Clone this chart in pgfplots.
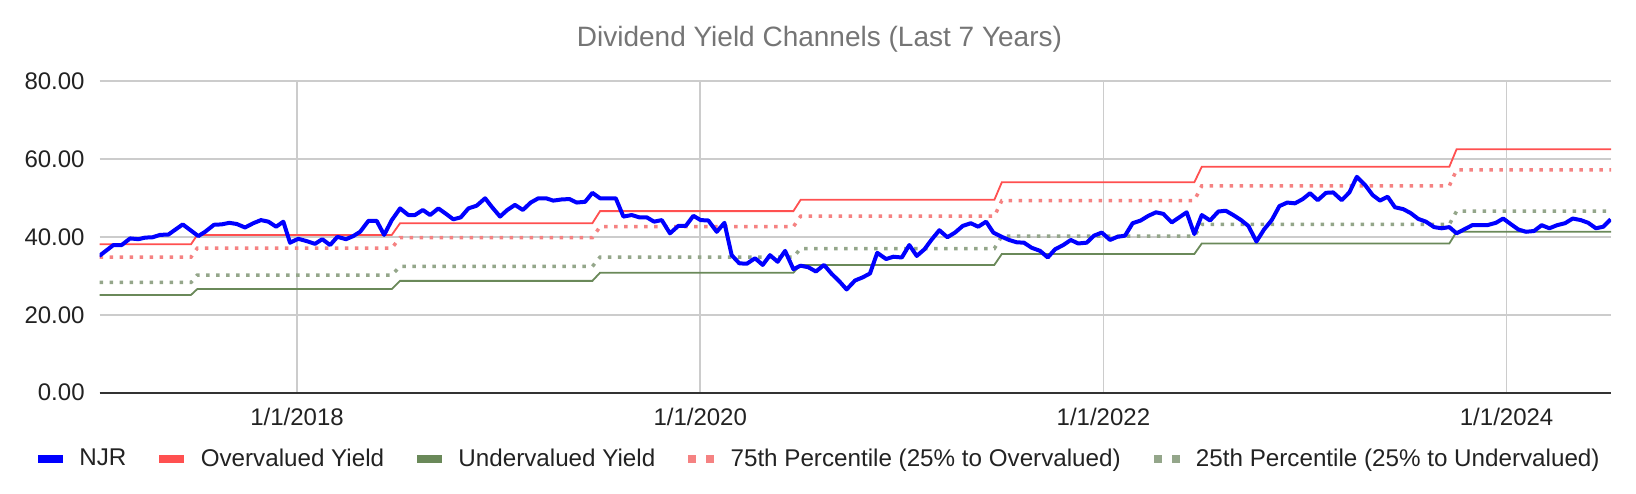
\documentclass[border=0pt]{standalone}
\usepackage{fontspec}
\setmainfont{Liberation Sans}
\usepackage{pgfplots}
\pgfplotsset{compat=1.18}
\definecolor{njr}{RGB}{0,0,255}
\definecolor{over}{RGB}{255,80,80}
\definecolor{under}{RGB}{106,137,89}
\definecolor{p75}{RGB}{245,130,130}
\definecolor{p25}{RGB}{148,166,138}
\definecolor{gridc}{RGB}{204,204,204}
\definecolor{axisc}{RGB}{51,51,51}
\definecolor{titlec}{RGB}{117,117,117}
\definecolor{textc}{RGB}{34,34,34}
\begin{document}
\begin{tikzpicture}
\useasboundingbox (0,0) rectangle (818bp,247bp);
\begin{axis}[
  at={(49.75bp,50.65bp)}, anchor=south west,
  scale only axis, width=755.75bp, height=155.85bp,
  xmin=2017.02, xmax=2024.518, ymin=0, ymax=80,
  xtick={2018,2020,2022,2024},
  xticklabels={1/1/2018,1/1/2020,1/1/2022,1/1/2024},
  ytick={0,20,40,60,80},
  /pgf/number format/fixed,
  /pgf/number format/fixed zerofill,
  /pgf/number format/precision=2,
  /pgf/number format/assume math mode=true,
  major tick length=0pt,
  xmajorgrids, ymajorgrids,
  major grid style={gridc, line width=0.75bp},
  axis x line*=bottom, axis y line*=left,
  x axis line style={axisc, line width=1bp, -},
  y axis line style={draw=none},
  tick label style={font=\fontsize{12bp}{14bp}\selectfont, text=textc, inner sep=0pt},
  xticklabel style={yshift=-7.4bp},
  yticklabel style={xshift=-7.25bp},
  title={Dividend Yield Channels (Last 7 Years)},
  title style={font=\fontsize{14bp}{16bp}\selectfont, text=titlec, inner sep=0pt,
    at={(axis description cs:0.4763,1)}, anchor=base, yshift=11.2bp},
  legend columns=5,
  legend style={draw=none, fill=none, inner sep=0pt,
    at={(axis description cs:0.4759,-0.2127)}, anchor=center,
    font=\fontsize{12.1bp}{14bp}\selectfont, text=textc,
    nodes={inner sep=0pt},
    /tikz/every odd column/.append style={column sep=8.25bp},
    /tikz/every even column/.append style={column sep=16.5bp}},
  clip=true,
]
\addlegendimage{legend image code/.code={\fill[njr] (0bp,-1.75bp) rectangle (12bp,1.75bp);}}
\addlegendentry{NJR}
\addlegendimage{legend image code/.code={\fill[over] (0bp,-1.75bp) rectangle (12bp,1.75bp);}}
\addlegendentry{Overvalued Yield}
\addlegendimage{legend image code/.code={\fill[under] (0bp,-1.75bp) rectangle (12bp,1.75bp);}}
\addlegendentry{Undervalued Yield}
\addlegendimage{legend image code/.code={\fill[p75] (0bp,-1.75bp) rectangle (3.5bp,1.75bp); \fill[p75] (9bp,-1.75bp) rectangle (12.5bp,1.75bp);}}
\addlegendentry{75th Percentile (25\% to Overvalued)}
\addlegendimage{legend image code/.code={\fill[p25] (0bp,-1.75bp) rectangle (3.5bp,1.75bp); \fill[p25] (9bp,-1.75bp) rectangle (12.5bp,1.75bp);}}
\addlegendentry{25th Percentile (25\% to Undervalued)}

% Undervalued yield
\addplot[forget plot, under, line width=0.9bp] coordinates {
(2017.02,25.1) (2017.474,25.1) (2017.505,26.6) (2018.470,26.6) (2018.511,28.7)
(2019.465,28.7) (2019.503,30.8) (2020.462,30.8) (2020.498,32.8) (2021.459,32.8)
(2021.496,35.6) (2022.451,35.6) (2022.488,38.3) (2023.716,38.3) (2023.752,41.3) (2024.518,41.3)};
% Overvalued yield
\addplot[forget plot, over, line width=0.9bp] coordinates {
(2017.02,38.1) (2017.474,38.1) (2017.505,40.5) (2018.470,40.5) (2018.511,43.5)
(2019.465,43.5) (2019.503,46.6) (2020.462,46.6) (2020.498,49.5) (2021.459,49.5)
(2021.496,54.0) (2022.451,54.0) (2022.488,58.0) (2023.716,58.0) (2023.752,62.5) (2024.518,62.5)};
% 75th percentile
\addplot[forget plot, p75, line width=1.75bp, dash pattern=on 1.75bp off 3.25bp] coordinates {
(2017.02,34.8) (2017.474,34.8) (2017.505,37.1) (2018.470,37.1) (2018.511,39.8)
(2019.465,39.8) (2019.503,42.6) (2020.462,42.6) (2020.498,45.3) (2021.459,45.3)
(2021.496,49.3) (2022.451,49.3) (2022.488,53.1) (2023.716,53.1) (2023.752,57.2) (2024.518,57.2)};
% 25th percentile
\addplot[forget plot, p25, line width=1.75bp, dash pattern=on 1.75bp off 3.25bp] coordinates {
(2017.02,28.3) (2017.474,28.3) (2017.505,30.2) (2018.470,30.2) (2018.511,32.4)
(2019.465,32.4) (2019.503,34.8) (2020.462,34.8) (2020.498,37.0) (2021.459,37.0)
(2021.496,40.2) (2022.451,40.2) (2022.488,43.2) (2023.716,43.2) (2023.752,46.6) (2024.518,46.6)};
% NJR
\addplot[forget plot, njr, line width=2bp, line join=round] coordinates {
(2017.019,35.1) (2017.089,37.9) (2017.130,37.9) (2017.172,39.6) (2017.213,39.4)
(2017.246,39.8) (2017.284,39.9) (2017.320,40.5) (2017.362,40.6) (2017.433,43.2)
(2017.510,40.2) (2017.544,41.3) (2017.588,43.1) (2017.626,43.2) (2017.664,43.6)
(2017.701,43.3) (2017.742,42.4) (2017.783,43.5) (2017.821,44.3) (2017.858,43.9)
(2017.896,42.6) (2017.932,43.9) (2017.965,38.5) (2018.006,39.5) (2018.048,38.9)
(2018.089,38.2) (2018.125,39.4) (2018.164,37.9) (2018.200,40.0) (2018.243,39.4)
(2018.279,40.2) (2018.313,41.3) (2018.354,44.1) (2018.395,44.1) (2018.432,40.5)
(2018.470,44.3) (2018.511,47.3) (2018.552,45.6) (2018.585,45.6) (2018.624,46.9)
(2018.660,45.6) (2018.701,47.3) (2018.739,45.9) (2018.775,44.5) (2018.812,45.0)
(2018.850,47.3) (2018.891,48.0) (2018.933,49.9) (2018.966,47.7) (2019.007,45.2)
(2019.043,46.9) (2019.081,48.2) (2019.120,46.9) (2019.159,48.8) (2019.197,49.9)
(2019.235,49.9) (2019.271,49.3) (2019.313,49.6) (2019.351,49.7) (2019.387,48.8)
(2019.429,49.0) (2019.465,51.3) (2019.503,49.9) (2019.544,49.9) (2019.581,49.9)
(2019.619,45.2) (2019.660,45.6) (2019.698,45.0) (2019.735,45.0) (2019.771,43.9)
(2019.809,44.3) (2019.850,40.9) (2019.891,42.8) (2019.928,42.8) (2019.966,45.4)
(2020.002,44.3) (2020.040,44.2) (2020.082,41.3) (2020.120,43.6) (2020.156,35.3)
(2020.194,33.2) (2020.231,33.1) (2020.272,34.5) (2020.310,32.8) (2020.346,35.3)
(2020.384,33.6) (2020.421,36.4) (2020.462,31.7) (2020.498,32.6) (2020.536,32.2)
(2020.574,31.1) (2020.614,32.8) (2020.652,30.5) (2020.690,28.6) (2020.726,26.5)
(2020.768,28.8) (2020.806,29.6) (2020.842,30.6) (2020.878,35.9) (2020.922,34.3)
(2020.958,34.9) (2021.000,34.7) (2021.037,37.9) (2021.074,35.1) (2021.112,36.8)
(2021.148,39.3) (2021.186,41.7) (2021.226,39.9) (2021.264,41.1) (2021.302,42.8)
(2021.342,43.5) (2021.379,42.6) (2021.418,43.9) (2021.454,41.1) (2021.496,40.0)
(2021.532,39.2) (2021.570,38.6) (2021.606,38.5) (2021.644,37.2) (2021.686,36.4)
(2021.724,34.7) (2021.760,36.8) (2021.801,37.9) (2021.838,39.2) (2021.875,38.3)
(2021.917,38.5) (2021.953,40.3) (2021.992,41.1) (2022.033,39.2) (2022.069,40.0)
(2022.107,40.3) (2022.145,43.5) (2022.185,44.2) (2022.223,45.4) (2022.261,46.3)
(2022.297,45.9) (2022.339,43.7) (2022.376,45.0) (2022.413,46.3) (2022.451,40.7)
(2022.488,45.6) (2022.529,44.2) (2022.570,46.5) (2022.607,46.7) (2022.644,45.6)
(2022.683,44.3) (2022.719,42.8) (2022.759,38.8) (2022.797,41.9) (2022.835,44.3)
(2022.873,47.9) (2022.912,48.8) (2022.950,48.6) (2022.989,49.7) (2023.025,51.2)
(2023.063,49.4) (2023.104,51.3) (2023.140,51.4) (2023.182,49.4) (2023.220,51.4)
(2023.257,55.4) (2023.298,53.3) (2023.336,50.7) (2023.372,49.3) (2023.410,50.3)
(2023.446,47.6) (2023.488,47.1) (2023.524,46.1) (2023.562,44.6) (2023.600,43.9)
(2023.640,42.5) (2023.678,42.2) (2023.716,42.5) (2023.752,40.9) (2023.789,41.9)
(2023.830,43.0) (2023.868,43.0) (2023.904,43.0) (2023.947,43.6) (2023.983,44.7)
(2024.020,43.3) (2024.058,41.9) (2024.096,41.3) (2024.136,41.5) (2024.174,43.0)
(2024.212,42.2) (2024.251,43.0) (2024.290,43.5) (2024.328,44.7) (2024.368,44.3)
(2024.405,43.6) (2024.443,42.2) (2024.480,42.6) (2024.516,44.5)};
\end{axis}
\end{tikzpicture}
\end{document}
